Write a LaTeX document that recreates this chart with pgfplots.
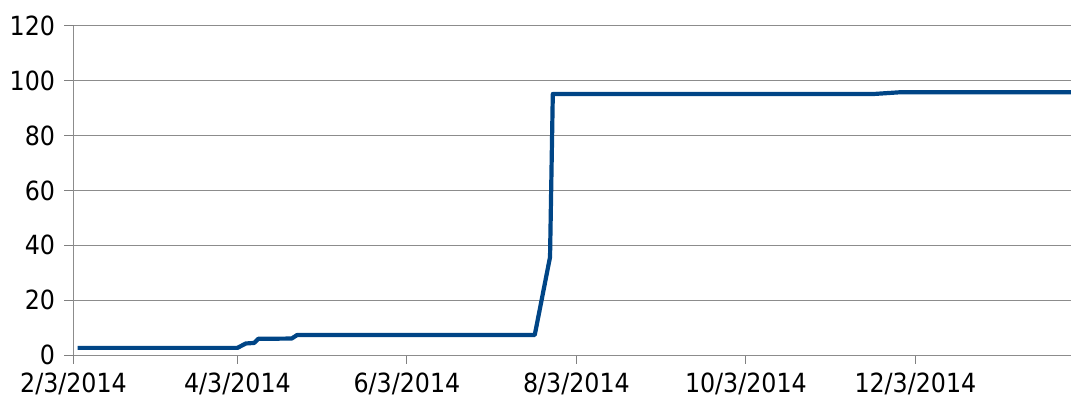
\documentclass[border=0pt]{standalone}
\usepackage{fontspec}
\setmainfont{DejaVu Sans Condensed}
\usepackage{pgfplots}
\pgfplotsset{compat=1.18}
\definecolor{series}{HTML}{004586}
\begin{document}
\begin{tikzpicture}
\useasboundingbox (0,0) rectangle (1071bp,401bp);
\begin{axis}[
 at={(73.5bp,46bp)}, anchor=south west,
 scale only axis, width=997.5bp, height=329bp,
 xmin=0, xmax=359, ymin=0, ymax=120,
 ytick={0,20,...,120},
 xtick={0,59,120,181,242,303},
 xticklabels={2/3/2014,4/3/2014,6/3/2014,8/3/2014,10/3/2014,12/3/2014},
 axis x line=bottom, axis y line=left,
 axis line style={-, draw=black!45, line width=1bp},
 ymajorgrids, grid style={black!45, line width=1bp},
 tick align=outside, major tick length=9bp, tick style={black!50, line width=1bp},
 xtick pos=bottom, ytick pos=left,
 font=\fontsize{26.5}{30}\selectfont,
 x tick label style={yshift=-5bp},
 y tick label style={xshift=-6bp},
 /pgf/number format/assume math mode=true,
]
\addplot[series, line width=4.2bp, line join=round] coordinates {
(1.5,2.6) (59,2.6) (62,4.2) (65,4.4) (66.5,5.9) (78.5,6.0) (80.5,7.3)
(166,7.3) (171.5,35.7) (172.5,95.2) (288,95.2) (297,95.8) (359,95.8)
};
\end{axis}
\end{tikzpicture}
\end{document}
